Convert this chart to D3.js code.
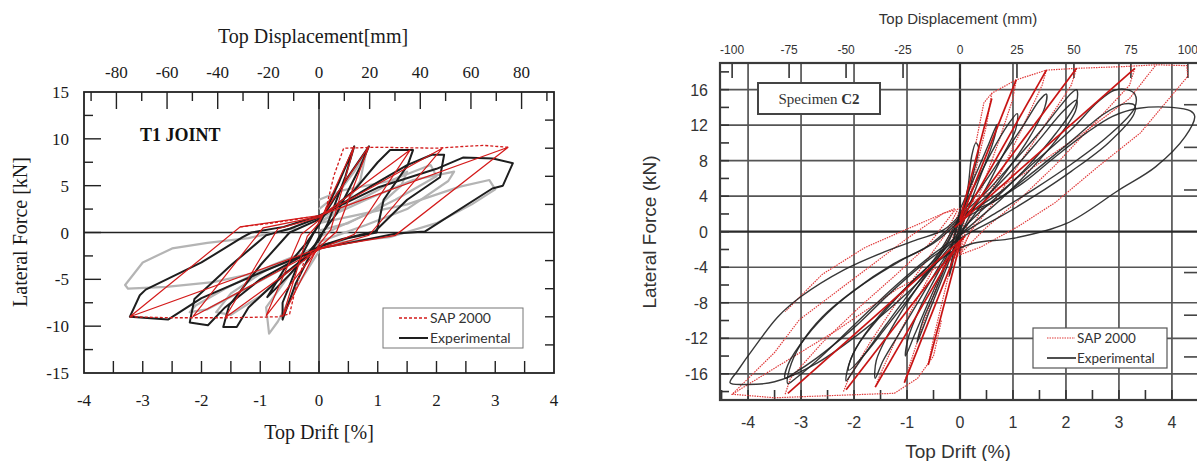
<!DOCTYPE html>
<html>
<head>
<meta charset="utf-8">
<script src="https://cdn.jsdelivr.net/npm/d3@7/dist/d3.min.js"></script>
<style>
body { margin: 0; background: #fff; }
</style>
</head>
<body>
<script>
// ---------- left chart (T1 JOINT), points are [drift %, force kN]
var leftDriftTicks = [-4, -3, -2, -1, 0, 1, 2, 3, 4];
var leftDispTicks = [-80, -60, -40, -20, 0, 20, 40, 60, 80];
var leftForceTicks = [-15, -10, -5, 0, 5, 10, 15];

var leftGray = [
  [[-0.4,0.5],[-1.2,-0.6],[-1.9,-1.1],[-2.5,-1.7],[-3.0,-3.2],[-3.3,-5.6],[-3.25,-6.0],[-2.6,-5.8],[-1.8,-5.3],[-1.0,-4.2],[-0.3,-2.6],[0,-1.8]],
  [[0,-1.5],[-0.8,-3.5],[-1.6,-6.0],[-2.1,-7.8],[-2.2,-8.5],[-1.9,-8.2],[-1.3,-6.2],[-0.6,-3.8],[0,-1.2]],
  [[0,-1.2],[-0.5,-4.5],[-0.9,-8.0],[-0.85,-10.8],[-0.7,-9.5],[-0.4,-6.0],[0,-2.0]],
  [[0,-1.4],[-0.9,-4.0],[-1.5,-6.5],[-1.75,-8.5],[-1.5,-8.8],[-1.0,-6.8],[-0.4,-3.5],[0,-1.5]],
  [[0,1.2],[0.8,3.5],[1.6,5.6],[2.3,6.5],[2.2,5.5],[1.5,2.5],[0.8,0.8],[0,-1.0]],
  [[0,1.0],[1.5,3.0],[2.4,4.9],[2.9,5.6],[3.0,4.6],[2.6,3.0],[2.0,1.0],[1.2,-0.5],[0,-1.3]],
  [[0,2.5],[0.3,4.0],[0.6,6.5],[0.8,8.5],[0.7,5.5],[0.4,2.5],[0,1.0]],
  [[0,1.5],[0.6,3.2],[1.0,4.5],[1.5,6.5],[1.4,5.0],[0.9,2.2],[0.3,0.5],[0,-0.5]],
  [[0,3.5],[0.4,4.5],[1.2,5.5],[1.9,7.2],[2.0,6.0],[1.3,3.5],[0.5,1.0],[0,0.2]]
];

var leftExp = [
  [[0,1.8],[1.0,4.8],[2.0,6.8],[2.45,8.0],[2.96,7.9],[3.3,7.4],[3.13,5.0],[2.95,4.7],[1.8,0.1],[1.32,-0.1],[0.6,-1.0],[0,-1.7],[-1.0,-4.3],[-2.0,-7.0],[-2.57,-9.3],[-3.22,-9.0],[-3.05,-6.7],[-2.95,-6.1],[-2.0,-3.2],[-1.3,-0.5],[-1.15,0],[-0.6,0.6],[0,1.8]],
  [[0,1.6],[0.9,5.0],[1.5,7.2],[1.92,8.3],[2.13,8.3],[2.06,5.9],[1.5,3.5],[0.95,0.1],[0.4,-0.7],[0,-1.5],[-1.0,-5.0],[-1.6,-8.0],[-1.89,-9.9],[-2.2,-9.6],[-2.12,-7.1],[-1.5,-3.5],[-0.9,-0.3],[-0.5,0.4],[0,1.6]],
  [[0,1.4],[0.6,4.5],[1.0,7.5],[1.21,8.8],[1.6,8.8],[1.51,7.2],[1.1,3.5],[0.98,0],[0.5,-0.6],[0,-1.5],[-0.6,-4.5],[-1.2,-8.0],[-1.4,-10.1],[-1.63,-10.1],[-1.53,-7.8],[-1.0,-3.5],[-0.5,0],[0,1.4]],
  [[0,1.0],[0.5,6.0],[0.85,9.2],[0.7,7.0],[0.3,2.0],[0,-0.5],[-0.4,-5.5],[-0.62,-9.3],[-0.62,-7.5],[-0.3,-2.5],[0,1.0]],
  [[0,0.8],[0.35,5.5],[0.6,9.2],[0.45,6.0],[0.15,1.0],[0,-0.8],[-0.5,-4.5],[-0.88,-6.9],[-0.6,-4.0],[-0.2,-1.0],[0,0.8]]
];

var leftSap = [
  [[0,1.8],[3.22,9.1],[1.3,-0.3],[0,-1.7],[-3.22,-9.0],[-1.34,0.6],[0,1.8]],
  [[0,1.7],[2.1,9.0],[0.85,-0.3],[0,-1.8],[-2.15,-9.0],[-0.95,0.5],[0,1.7]],
  [[0,1.6],[1.55,8.8],[0.6,-0.2],[0,-1.8],[-1.6,-9.1],[-0.7,0.4],[0,1.6]],
  [[0,1.3],[0.85,9.2],[0.3,0.1],[0,-1.6],[-0.9,-8.9],[-0.3,-0.2],[0,1.3]],
  [[0,1.0],[0.6,9.2],[0.2,0.3],[0,-1.3],[-0.62,-9.0],[-0.2,-0.4],[0,1.0]]
];
var leftSapEnvelope = [
  [[-3.22,-9.0],[-2.5,-9.1],[-1.5,-9.1],[-0.7,-9.0],[-0.5,-8.7],[-0.4,-6.0],[-0.25,-3.0],[-0.1,-1.8]],
  [[0.1,2.0],[0.25,6.0],[0.42,9.0],[1.0,9.1],[2.0,9.0],[2.5,9.2],[2.8,9.3],[3.22,9.1]],
  [[-1.34,0.6],[-0.8,1.0],[-0.2,1.6]]
];

// ---------- right chart (Specimen C2)
var rightDriftTicks = [-4, -3, -2, -1, 0, 1, 2, 3, 4];
var rightDispTicks = [-100, -75, -50, -25, 0, 25, 50, 75, 100];
var rightForceTicks = [-16, -12, -8, -4, 0, 4, 8, 12, 16];
var rightSideTicks = [14.3, 9.5, 4.7, -4.6, -9.4, -14.1];

var rightExp = [
  [[0,1.9],[0.56,3.2],[1.19,5.5],[1.81,8.5],[2.38,11.1],[2.88,13.0],[3.38,13.9],[4.0,14.0],[4.35,13.6],[4.43,13.0],[4.25,10.7],[3.69,7.3],[3.0,4.7],[2.0,0.9],[1.0,-0.75],[0.25,-1.3],[-0.3,-2.8],[-0.94,-6.6],[-1.8,-11.0],[-2.7,-14.8],[-3.5,-16.9],[-4.06,-17.2],[-4.34,-17.0],[-4.19,-15.6],[-3.88,-13.0],[-3.44,-9.6],[-3.0,-7.3],[-2.19,-4.3],[-1.44,-2.3],[-0.81,-0.9],[-0.31,0.2],[0,1.9]],
  [[0,1.6],[0.7,4.2],[1.4,7.8],[2.1,11.5],[2.6,14.6],[2.9,15.9],[3.15,16.0],[3.3,15.5],[3.3,14.0],[2.8,10.8],[2.1,7.6],[1.4,4.8],[0.7,2.2],[0.1,0.0],[-0.5,-2.5],[-1.2,-6.0],[-2.0,-10.5],[-2.7,-14.5],[-3.1,-16.5],[-3.25,-17.1],[-3.22,-15.5],[-3.0,-12.6],[-2.6,-9.6],[-2.0,-6.6],[-1.25,-3.6],[-0.6,-1.6],[0,1.6]],
  [[0,1.3],[0.7,3.6],[1.4,6.8],[2.1,10.2],[2.7,13.2],[3.1,14.4],[3.3,14.2],[3.28,13.2],[2.8,10.0],[2.1,6.8],[1.4,4.0],[0.7,1.5],[0.1,-0.4],[-0.6,-3.2],[-1.3,-6.8],[-2.0,-10.8],[-2.7,-14.2],[-3.15,-16.0],[-3.3,-16.5],[-3.25,-15.0],[-2.9,-11.8],[-2.4,-8.6],[-1.8,-5.8],[-1.1,-3.2],[-0.5,-1.3],[0,1.3]],
  [[0,1.8],[0.5,4.5],[1.0,7.8],[1.5,11.2],[1.9,14.2],[2.1,15.6],[2.2,16.0],[2.2,14.6],[1.8,11.0],[1.3,7.5],[0.8,4.5],[0.3,1.8],[0,0],[-0.4,-2.8],[-0.9,-6.5],[-1.4,-10.5],[-1.8,-13.8],[-2.05,-16.0],[-2.15,-16.8],[-2.1,-15.0],[-1.9,-12.5],[-1.5,-9.5],[-1.0,-6.2],[-0.5,-3.2],[0,1.8]],
  [[0,1.5],[0.5,4.0],[1.0,7.0],[1.5,10.4],[1.95,13.6],[2.2,14.8],[2.18,13.6],[1.8,10.2],[1.3,6.8],[0.8,3.8],[0.3,1.2],[0,-0.4],[-0.4,-3.2],[-0.9,-7.0],[-1.4,-10.8],[-1.8,-13.8],[-2.1,-15.6],[-2.05,-14.2],[-1.8,-11.6],[-1.4,-8.6],[-0.9,-5.6],[-0.4,-2.6],[0,1.5]],
  [[0,1.8],[0.4,5.0],[0.8,8.5],[1.2,12.0],[1.5,14.8],[1.63,15.5],[1.6,14.0],[1.3,10.5],[0.9,7.0],[0.5,3.8],[0.1,0.5],[-0.3,-3.0],[-0.7,-7.0],[-1.1,-11.0],[-1.45,-14.5],[-1.6,-16.5],[-1.58,-14.5],[-1.35,-11.5],[-1.0,-8.0],[-0.6,-4.5],[-0.25,-1.5],[0,1.8]],
  [[0,2.0],[0.3,5.5],[0.6,9.0],[0.9,12.0],[1.08,13.3],[1.05,11.5],[0.8,8.5],[0.5,5.0],[0.2,2.0],[0,-0.5],[-0.3,-4.0],[-0.6,-8.0],[-0.85,-11.5],[-1.03,-14.0],[-0.98,-12.0],[-0.75,-8.5],[-0.45,-5.0],[-0.15,-1.5],[0,2.0]],
  [[0,2.5],[0.3,6.5],[0.55,10.0],[0.7,12.1],[0.62,10.0],[0.4,6.5],[0.15,2.5],[0,0],[-0.25,-4.0],[-0.55,-8.5],[-0.81,-12.5],[-0.7,-10.0],[-0.45,-6.5],[-0.2,-2.5],[0,2.5]],
  [[0,1.0],[0.15,5.0],[0.22,8.5],[0.3,10.0],[0.35,9.5],[0.25,6.5],[0.1,3.0],[0,0],[-0.1,-2.5],[-0.2,-5.0],[-0.15,-3.0],[0,1.0]]
];

// SAP 2000 unloading branches and envelope (dotted)
var rightSapDotted = [
  [[0.3,10.0],[0.45,14.5],[0.6,15.6],[1.06,17.1],[1.63,18.2],[2.2,18.4],[3.1,18.6],[3.7,18.8],[4.28,18.7],[4.3,17.5],[3.4,11.1],[2.6,7.3],[1.8,3.3],[1.1,0.6],[0.4,-1.7],[0,-2.6]],
  [[-0.35,-10.0],[-0.5,-14.0],[-0.8,-16.5],[-1.24,-18.2],[-1.74,-18.3],[-2.64,-18.5],[-3.5,-18.7],[-4.3,-18.3],[-3.5,-13.6],[-3.03,-9.9],[-2.03,-5.4],[-1.03,-0.9],[-0.31,2.1],[0,2.6]],
  [[0,2.6],[1.2,6.5],[2.3,11.0],[3.2,15.0],[3.7,18.8]],
  [[0,-2.6],[-1.2,-6.5],[-2.3,-11.0],[-3.4,-15.0],[-4.3,-18.3]],
  [[3.3,18.4],[3.2,16.5],[2.5,12.0],[1.8,7.5],[1.1,3.5],[0.5,0.5],[0,-2.5]],
  [[-3.3,-18.3],[-3.2,-16.5],[-2.6,-12.5],[-1.9,-8.5],[-1.2,-4.8],[-0.6,-1.5],[-0.1,2.4]],
  [[2.2,18.4],[2.1,16.5],[1.6,12.0],[1.1,7.5],[0.6,3.0],[0.2,0.0],[0,-2.5]],
  [[-2.2,-18.0],[-2.1,-16.5],[-1.7,-12.5],[-1.2,-8.0],[-0.7,-3.8],[-0.3,-0.5],[-0.05,2.4]],
  [[1.63,18.2],[1.55,16.5],[1.2,12.0],[0.8,7.0],[0.4,2.5],[0,-2.4]],
  [[-1.6,-17.5],[-1.5,-16.0],[-1.2,-12.0],[-0.8,-7.5],[-0.4,-3.0],[0,2.4]],
  [[1.06,17.1],[1.0,15.0],[0.75,10.5],[0.45,5.5],[0.15,1.0],[0,-2.3]],
  [[-1.05,-17.0],[-0.95,-15.0],[-0.7,-10.5],[-0.4,-5.5],[-0.15,-1.0],[0,2.3]],
  [[0.6,15.6],[0.5,12.0],[0.3,7.0],[0.1,2.0],[0,-2.0]],
  [[-0.6,-15.0],[-0.5,-12.0],[-0.3,-7.0],[-0.1,-2.0],[0,2.0]],
  [[-0.1,2.6],[-1.0,0.3],[-1.8,-1.8],[-2.6,-4.8],[-3.3,-9.0]]
];
// SAP 2000 loading branches (darker, straight)
var rightSapSolid = [
  [[-0.1,0.5],[3.3,18.4]], [[0,0.8],[2.2,18.4]], [[0,1.0],[1.63,18.2]],
  [[0,1.2],[1.06,17.1]], [[0,1.4],[0.6,15.0]],
  [[0.1,-0.5],[-3.25,-18.2]], [[0.05,-0.8],[-2.15,-17.8]], [[0,-1.0],[-1.6,-17.5]],
  [[0,-1.2],[-1.05,-17.0]], [[0,-1.4],[-0.6,-15.0]]
];

var svg = d3.select("body").append("svg")
    .attr("width", 1197)
    .attr("height", 461)
    .style("background", "#fff");

// ================= LEFT CHART =================
var serif = "'Liberation Serif', 'Times New Roman', serif";
var xL = d3.scaleLinear().domain([-4, 4]).range([84, 554]);
var yL = d3.scaleLinear().domain([-15, 15]).range([373, 92]);
var xLmm = d3.scaleLinear().domain([-4 * 23.2, 4 * 23.2]).range([84, 554]);

var gL = svg.append("g");

// ticks (inside)
gL.selectAll(".bt").data(d3.range(-3.5, 3.6, 0.5)).enter().append("line")
    .attr("x1", function(d){ return xL(d); }).attr("x2", function(d){ return xL(d); })
    .attr("y1", 373).attr("y2", 361)
    .attr("stroke", "#222").attr("stroke-width", 1.4);
gL.selectAll(".tt").data(d3.range(-90, 91, 10)).enter().append("line")
    .attr("x1", function(d){ return xLmm(d); }).attr("x2", function(d){ return xLmm(d); })
    .attr("y1", 92).attr("y2", function(d){ return d % 20 === 0 ? 109 : 101; })
    .attr("stroke", "#222").attr("stroke-width", 1.4);
gL.selectAll(".lt").data(d3.range(-12.5, 12.6, 2.5)).enter().append("line")
    .attr("y1", function(d){ return yL(d); }).attr("y2", function(d){ return yL(d); })
    .attr("x1", 84).attr("x2", function(d){ return d % 5 === 0 ? 101 : 93; })
    .attr("stroke", "#222").attr("stroke-width", 1.4);
gL.selectAll(".rt").data([-12, -9, -6, -3, 3, 6, 9, 12]).enter().append("line")
    .attr("y1", function(d){ return yL(d); }).attr("y2", function(d){ return yL(d); })
    .attr("x1", 554).attr("x2", 545)
    .attr("stroke", "#222").attr("stroke-width", 1.4);

// zero lines
gL.append("line").attr("x1", xL(0)).attr("x2", xL(0)).attr("y1", 92).attr("y2", 373)
    .attr("stroke", "#222").attr("stroke-width", 1.4);
gL.append("line").attr("x1", 84).attr("x2", 554).attr("y1", yL(0)).attr("y2", yL(0))
    .attr("stroke", "#222").attr("stroke-width", 1.4);

var lineL = d3.line().x(function(d){ return xL(d[0]); }).y(function(d){ return yL(d[1]); });

gL.selectAll(".gray").data(leftGray).enter().append("path")
    .attr("d", lineL).attr("fill", "none")
    .attr("stroke", "#b4b4b4").attr("stroke-width", 2.2).attr("stroke-linejoin", "round");
gL.selectAll(".exp").data(leftExp).enter().append("path")
    .attr("d", lineL).attr("fill", "none")
    .attr("stroke", "#1e1e1e").attr("stroke-width", 2).attr("stroke-linejoin", "round");
gL.selectAll(".sap").data(leftSap).enter().append("path")
    .attr("d", lineL).attr("fill", "none")
    .attr("stroke", "#d41a1a").attr("stroke-width", 1.2);
gL.selectAll(".sapd").data(leftSapEnvelope).enter().append("path")
    .attr("d", lineL).attr("fill", "none")
    .attr("stroke", "#d41a1a").attr("stroke-width", 1.3).attr("stroke-dasharray", "3,2");

// frame
gL.append("rect").attr("x", 84).attr("y", 92).attr("width", 470).attr("height", 281)
    .attr("fill", "none").attr("stroke", "#222").attr("stroke-width", 1.8);

// tick labels
gL.selectAll(".bl").data(leftDriftTicks).enter().append("text")
    .attr("x", function(d){ return xL(d); }).attr("y", 406)
    .attr("text-anchor", "middle").style("font", "17px " + serif).attr("fill", "#1a1a1a")
    .text(function(d){ return d; });
gL.selectAll(".tl").data(leftDispTicks).enter().append("text")
    .attr("x", function(d){ return xLmm(d); }).attr("y", 78)
    .attr("text-anchor", "middle").style("font", "17px " + serif).attr("fill", "#1a1a1a")
    .text(function(d){ return d; });
gL.selectAll(".yl").data(leftForceTicks).enter().append("text")
    .attr("x", 69).attr("y", function(d){ return yL(d) + 6; })
    .attr("text-anchor", "end").style("font", "17px " + serif).attr("fill", "#1a1a1a")
    .text(function(d){ return d; });

gL.append("text").attr("x", 313).attr("y", 43).attr("text-anchor", "middle")
    .style("font", "20px " + serif).attr("fill", "#1a1a1a").text("Top Displacement[mm]");
gL.append("text").attr("x", 319).attr("y", 439).attr("text-anchor", "middle")
    .style("font", "20px " + serif).attr("fill", "#1a1a1a").text("Top Drift [%]");
gL.append("text").attr("transform", "translate(27,232) rotate(-90)").attr("text-anchor", "middle")
    .style("font", "20px " + serif).attr("fill", "#1a1a1a").text("Lateral Force [kN]");
gL.append("text").attr("x", 140).attr("y", 141)
    .style("font", "bold 18px " + serif).attr("fill", "#111").text("T1 JOINT");

// legend
var legL = gL.append("g");
legL.append("rect").attr("x", 383).attr("y", 308).attr("width", 140).attr("height", 40)
    .attr("fill", "#fff").attr("stroke", "#777").attr("stroke-width", 1);
legL.append("line").attr("x1", 399).attr("x2", 428).attr("y1", 318).attr("y2", 318)
    .attr("stroke", "#d41a1a").attr("stroke-width", 1.3).attr("stroke-dasharray", "3,2");
legL.append("line").attr("x1", 399).attr("x2", 428).attr("y1", 338).attr("y2", 338)
    .attr("stroke", "#1e1e1e").attr("stroke-width", 2);
legL.append("text").attr("x", 430).attr("y", 323).style("font", "14px Lato, sans-serif")
    .attr("fill", "#333").text("SAP 2000");
legL.append("text").attr("x", 430).attr("y", 343).style("font", "14px Lato, sans-serif")
    .attr("fill", "#333").text("Experimental");

// ================= RIGHT CHART =================
var sans = "'Liberation Sans', Arial, sans-serif";
var xR = d3.scaleLinear().domain([-4.53, 4.53]).range([720, 1200]);
var yR = d3.scaleLinear().domain([-18.95, 19.0]).range([400, 63]);
var xRmm = d3.scaleLinear().domain([-4.53 * 23.25, 4.53 * 23.25]).range([720, 1200]);

var gR = svg.append("g");

// grid
gR.selectAll(".gx").data(rightDriftTicks).enter().append("line")
    .attr("x1", function(d){ return xR(d); }).attr("x2", function(d){ return xR(d); })
    .attr("y1", 63).attr("y2", 400)
    .attr("stroke", function(d){ return d === 0 ? "#2a2a2a" : "#555"; })
    .attr("stroke-width", function(d){ return d === 0 ? 2.2 : 1.7; });
gR.selectAll(".gy").data(rightForceTicks).enter().append("line")
    .attr("y1", function(d){ return yR(d); }).attr("y2", function(d){ return yR(d); })
    .attr("x1", 720).attr("x2", 1200)
    .attr("stroke", function(d){ return d === 0 ? "#2a2a2a" : "#555"; })
    .attr("stroke-width", function(d){ return d === 0 ? 2.2 : 1.7; });

// ticks
gR.selectAll(".rbt").data(d3.range(-4.5, 4.6, 0.5)).enter().append("line")
    .attr("x1", function(d){ return xR(d); }).attr("x2", function(d){ return xR(d); })
    .attr("y1", 400).attr("y2", 390)
    .attr("stroke", "#333").attr("stroke-width", 1.6);
gR.selectAll(".rtt").data(rightDispTicks).enter().append("line")
    .attr("x1", function(d){ return xRmm(d); }).attr("x2", function(d){ return xRmm(d); })
    .attr("y1", 63).attr("y2", 78)
    .attr("stroke", "#333").attr("stroke-width", 1.6);
gR.selectAll(".rlt").data(d3.range(-18, 19, 2)).enter().append("line")
    .attr("y1", function(d){ return yR(d); }).attr("y2", function(d){ return yR(d); })
    .attr("x1", 720).attr("x2", 729)
    .attr("stroke", "#333").attr("stroke-width", 1.6);
gR.selectAll(".rrt").data(rightSideTicks).enter().append("line")
    .attr("y1", function(d){ return yR(d); }).attr("y2", function(d){ return yR(d); })
    .attr("x1", 1184).attr("x2", 1197)
    .attr("stroke", "#444").attr("stroke-width", 1.6);

var lineR = d3.line().x(function(d){ return xR(d[0]); }).y(function(d){ return yR(d[1]); });
var curveR = d3.line().curve(d3.curveCatmullRom.alpha(0.5))
    .x(function(d){ return xR(d[0]); }).y(function(d){ return yR(d[1]); });

gR.selectAll(".rsd").data(rightSapDotted).enter().append("path")
    .attr("d", lineR).attr("fill", "none")
    .attr("stroke", "#e03a3a").attr("stroke-width", 1.2).attr("stroke-dasharray", "1.5,1");
gR.selectAll(".rexp").data(rightExp).enter().append("path")
    .attr("d", curveR).attr("fill", "none")
    .attr("stroke", "#222").attr("stroke-width", 1.4).attr("stroke-opacity", 0.9);
gR.selectAll(".rss").data(rightSapSolid).enter().append("path")
    .attr("d", lineR).attr("fill", "none")
    .attr("stroke", "#c81414").attr("stroke-width", 1.7);

// frame
gR.append("rect").attr("x", 720).attr("y", 63).attr("width", 480).attr("height", 337)
    .attr("fill", "none").attr("stroke", "#3a3a3a").attr("stroke-width", 2.2);

// labels
gR.selectAll(".rbl").data(rightDriftTicks).enter().append("text")
    .attr("x", function(d){ return xR(d); }).attr("y", 428)
    .attr("text-anchor", "middle").style("font", "16px " + sans).attr("fill", "#333")
    .text(function(d){ return d; });
gR.selectAll(".rtl").data(rightDispTicks).enter().append("text")
    .attr("x", function(d){ return xRmm(d); }).attr("y", 54)
    .attr("text-anchor", "middle").style("font", "12px " + sans).attr("fill", "#333")
    .text(function(d){ return d; });
gR.selectAll(".ryl").data(rightForceTicks).enter().append("text")
    .attr("x", 708).attr("y", function(d){ return yR(d) + 6; })
    .attr("text-anchor", "end").style("font", "16px " + sans).attr("fill", "#333")
    .text(function(d){ return d; });

gR.append("text").attr("x", 958).attr("y", 24).attr("text-anchor", "middle")
    .style("font", "15px " + sans).attr("fill", "#333").text("Top Displacement (mm)");
gR.append("text").attr("x", 958).attr("y", 458).attr("text-anchor", "middle")
    .style("font", "19px " + sans).attr("fill", "#333").text("Top Drift (%)");
gR.append("text").attr("transform", "translate(656,232) rotate(-90)").attr("text-anchor", "middle")
    .style("font", "19px " + sans).attr("fill", "#333").text("Lateral Force (kN)");

// specimen box
gR.append("rect").attr("x", 758).attr("y", 83).attr("width", 122).attr("height", 31)
    .attr("fill", "#fff").attr("stroke", "#444").attr("stroke-width", 2);
var spec = gR.append("text").attr("x", 819).attr("y", 104).attr("text-anchor", "middle")
    .style("font", "15px " + serif).attr("fill", "#333");
spec.append("tspan").text("Specimen ");
spec.append("tspan").style("font-weight", "bold").text("C2");

// legend
var legR = gR.append("g");
legR.append("rect").attr("x", 1033).attr("y", 328).attr("width", 134).attr("height", 40)
    .attr("fill", "#fff").attr("stroke", "#555").attr("stroke-width", 1.2);
legR.append("line").attr("x1", 1047).attr("x2", 1075).attr("y1", 338).attr("y2", 338)
    .attr("stroke", "#e03a3a").attr("stroke-width", 1.2).attr("stroke-dasharray", "1.5,1");
legR.append("line").attr("x1", 1047).attr("x2", 1076).attr("y1", 358).attr("y2", 358)
    .attr("stroke", "#222").attr("stroke-width", 1.6);
legR.append("text").attr("x", 1077).attr("y", 343).style("font", "13.5px Lato, sans-serif")
    .attr("fill", "#333").text("SAP 2000");
legR.append("text").attr("x", 1077).attr("y", 363).style("font", "13.5px Lato, sans-serif")
    .attr("fill", "#333").text("Experimental");
</script>
</body>
</html>
